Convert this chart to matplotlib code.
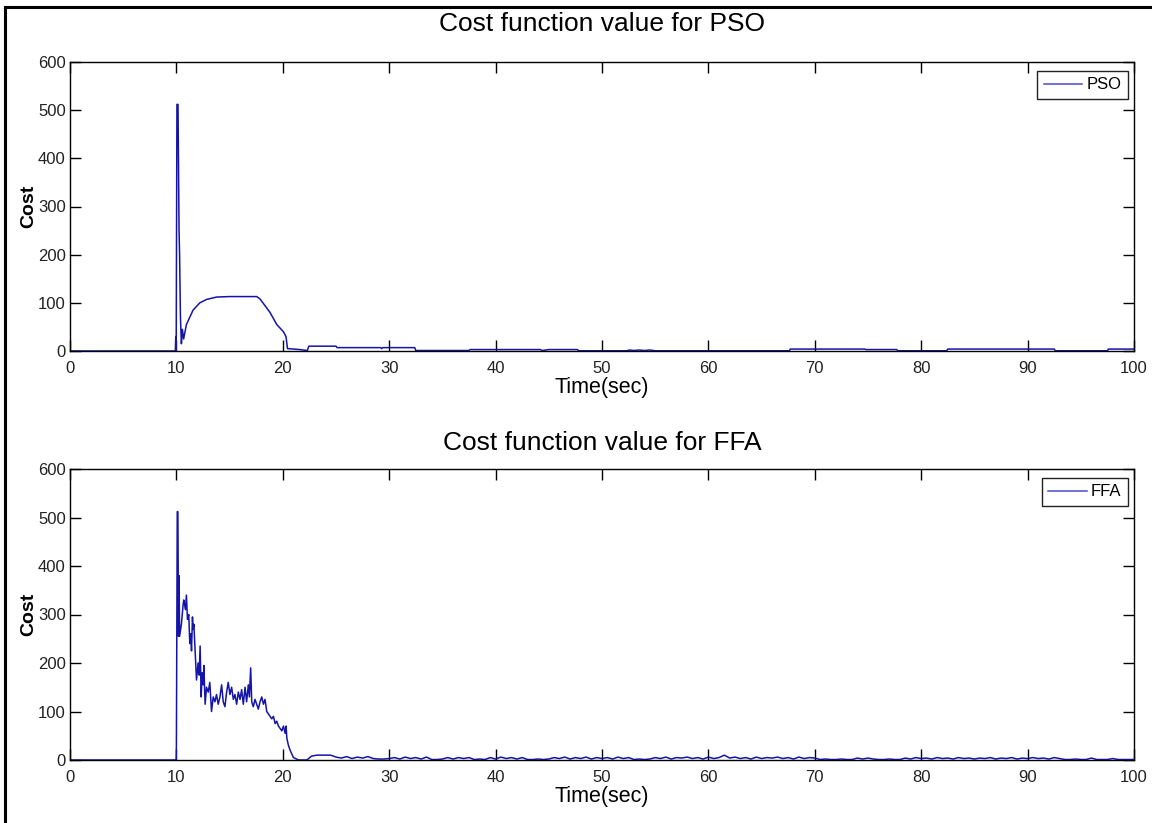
import numpy as np
import matplotlib
matplotlib.use("Agg")
import matplotlib.pyplot as plt
from matplotlib.lines import Line2D

plt.rcParams['font.family'] = ['Liberation Sans', 'DejaVu Sans']

# ---------------- data ----------------
pso_time = [0, 9.9, 9.94, 9.98, 10.05, 10.15, 10.2, 10.25, 10.3, 10.38,
            10.47, 10.56, 10.68, 10.94, 11.57, 12.2, 12.83, 13.77, 15.0, 17.55,
            17.86, 18.8, 19.43, 20.06, 20.3, 20.44, 21.6, 22.3, 22.45, 22.6,
            25.0, 25.1, 29.2, 29.3, 29.4, 32.4, 32.5, 37.5, 37.6, 44.2,
            44.4, 45.0, 47.7, 47.8, 52.3, 52.6, 53.0, 53.5, 54.0, 54.5,
            55.0, 55.1, 67.6, 67.7, 74.7, 74.8, 77.7, 77.8, 82.4, 82.5,
            92.5, 92.6, 97.5, 97.6, 100]
pso_cost = [0, 0, 30, 0, 512, 512, 380, 250, 200, 70,
            15, 45, 25, 55, 85, 100, 107, 112, 113, 113,
            108, 80, 55, 40, 30, 5, 3, 1, 10, 10,
            10, 7, 7, 5, 7, 7, 1, 1, 3, 3,
            1, 3, 3, 0.5, 0.5, 2, 1, 2, 1, 2,
            0.5, 0.5, 0.5, 4, 4, 3, 3, 0.5, 0.5, 4,
            4, 0.5, 0.5, 4, 4]

ffa_head_time = [0, 9.98, 10.0, 10.08, 10.14, 10.2, 10.25, 10.3, 10.47, 10.63,
                 10.69, 10.85, 10.94, 11.04, 11.16, 11.26, 11.35, 11.42, 11.51, 11.57,
                 11.64, 11.73, 11.89, 12.04, 12.14, 12.23, 12.33, 12.42, 12.52, 12.58,
                 12.7, 12.83, 12.99, 13.14, 13.3, 13.46, 13.62, 13.77, 13.93, 14.09,
                 14.25, 14.4, 14.56, 14.72, 14.87, 15.03, 15.19, 15.35, 15.5, 15.66,
                 15.82, 15.98, 16.13, 16.29, 16.45, 16.6, 16.76, 16.86, 16.98, 17.08,
                 17.23, 17.39, 17.55, 17.7, 17.86, 18.02, 18.18, 18.33, 18.49, 18.65,
                 18.8, 18.96, 19.12, 19.28, 19.43, 19.59, 19.75, 19.91, 20.06, 20.22,
                 20.31, 20.38, 20.53, 20.69, 21.0, 21.48, 22.26, 22.7, 23.2, 24.5]
ffa_head_cost = [0, 0, 30, 512, 512, 255, 380, 255, 280, 320,
                 330, 310, 340, 290, 300, 240, 260, 225, 295, 270,
                 280, 240, 165, 200, 175, 235, 130, 180, 155, 195,
                 115, 150, 140, 160, 100, 130, 120, 135, 115, 130,
                 155, 120, 110, 140, 160, 135, 150, 125, 135, 115,
                 140, 125, 145, 115, 150, 120, 155, 130, 190, 120,
                 110, 125, 115, 105, 120, 130, 115, 125, 100, 95,
                 90, 85, 90, 75, 80, 70, 65, 60, 70, 55,
                 70, 45, 30, 20, 5, 0, 0, 8, 10, 10]

# FFA tail: samples every 0.5 s from 25.0 s to 100.0 s
ffa_tail_start = 25.0
ffa_tail_step = 0.5
ffa_tail_cost = [6, 4, 7, 3, 6, 4, 7, 3,
                 2, 2, 3,
                 5, 2, 6, 3, 5, 2, 6,
                 1, 1, 2,
                 5, 2, 5, 3, 5,
                 1, 2, 1,
                 5, 2, 6, 3, 5, 2, 5,
                 1, 1, 2, 1, 2,
                 5, 3, 6, 2, 5, 3, 6, 2, 5, 3, 5, 2, 6, 3, 5,
                 1, 2, 1, 2,
                 5, 3, 6, 2, 5, 4, 6, 3, 5, 2, 6, 3, 5, 10, 4, 6, 3, 5, 2, 6,
                 3, 5, 4, 6, 3, 5, 2, 6, 3, 5, 4,
                 1, 2, 1, 1, 2, 1, 1,
                 4, 2, 4, 2,
                 1, 1, 2, 1, 1,
                 4, 2, 5, 3, 4, 2, 5, 3, 4, 2, 5, 3, 4, 2, 4, 3, 5, 2, 4, 3,
                 5, 2, 4, 3, 5, 3, 4, 2, 5, 3,
                 1, 1, 2, 1, 1, 4, 1, 1, 1, 3, 1, 1, 1, 1]

x_ticks = [0, 10, 20, 30, 40, 50, 60, 70, 80, 90, 100]
y_ticks = [0, 100, 200, 300, 400, 500, 600]
titles = ["Cost function value for PSO", "Cost function value for FFA"]
labels = ["PSO", "FFA"]

ffa_tail_time = ffa_tail_start + ffa_tail_step * np.arange(len(ffa_tail_cost))
ffa_time = np.concatenate([ffa_head_time, ffa_tail_time])
ffa_cost = np.concatenate([ffa_head_cost, ffa_tail_cost])

# ---------------- figure ----------------
W, H = 1152, 823
fig = plt.figure(figsize=(W / 100, H / 100), dpi=100)
line_color = '#1414a8'

def px_axes(left, top, right, bottom):
    return fig.add_axes([left / W, 1 - bottom / H, (right - left) / W, (bottom - top) / H])

ax1 = px_axes(70, 62, 1134, 351)
ax2 = px_axes(70, 469, 1134, 760)

series = [(pso_time, pso_cost), (ffa_time, ffa_cost)]
for ax, (t, c), ttl, lab in zip([ax1, ax2], series, titles, labels):
    ax.plot(t, c, color=line_color, lw=1.1, label=lab)
    ax.set_xlim(0, 100)
    ax.set_ylim(0, 600)
    ax.set_xticks(x_ticks)
    ax.set_yticks(y_ticks)
    ax.tick_params(direction='in', length=8, width=1, top=True, right=True,
                   labelsize=12, colors='black', labelcolor='#222222')
    ax.tick_params(axis='x', pad=7)
    ax.tick_params(axis='y', pad=3)
    for s in ax.spines.values():
        s.set_linewidth(1.0)
        s.set_color('black')
    ax.set_xlabel("Time(sec)", fontsize=15.5, labelpad=1)
    ax.set_ylabel("Cost", fontsize=14, fontweight='bold')
    ax.yaxis.set_label_coords(-0.031, 0.5)
    leg = ax.legend(loc='upper right', fontsize=12, frameon=True, fancybox=False,
                    edgecolor='#222222', framealpha=1, handlelength=2.3,
                    borderpad=0.4, handletextpad=0.25,
                    bbox_to_anchor=(0.9945, 0.97), borderaxespad=0)
    leg.get_frame().set_linewidth(1.0)
    for ln in leg.get_lines():
        ln.set_color('#4a4ac8')

ax1.set_title(titles[0], fontsize=19, pad=22)
ax2.set_title(titles[1], fontsize=19, pad=14)

# outer border of the picture
fig.add_artist(Line2D([5 / W, 5 / W], [0, 1 - 7 / H], transform=fig.transFigure,
                      color='black', lw=2.2))
fig.add_artist(Line2D([5 / W, 1], [1 - 7 / H, 1 - 7 / H], transform=fig.transFigure,
                      color='black', lw=2.2))

fig.savefig("out.png", dpi=100)
